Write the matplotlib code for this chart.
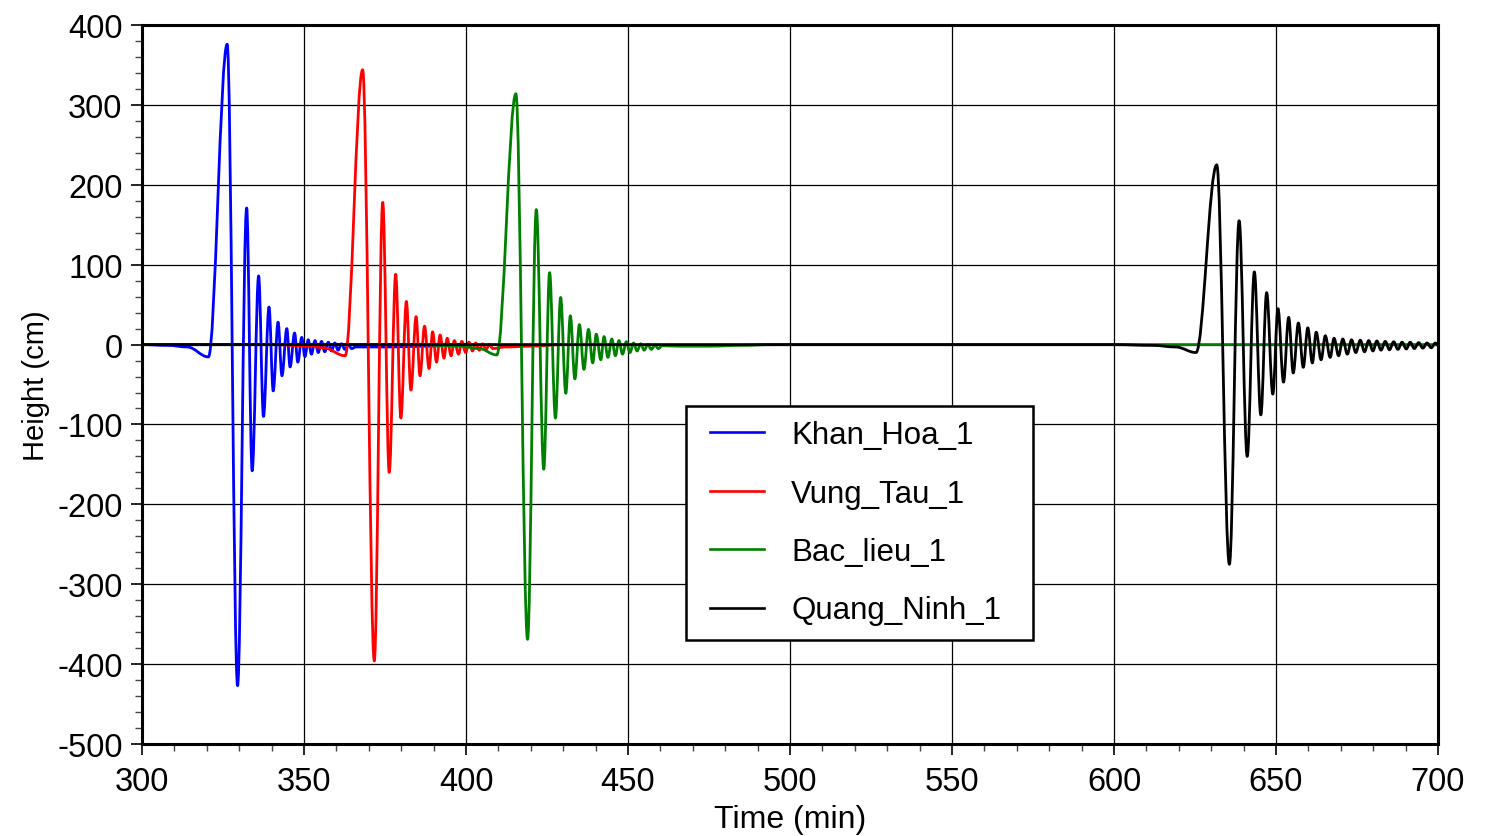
import matplotlib
matplotlib.use("Agg")
import matplotlib.pyplot as plt
from matplotlib.path import Path
from matplotlib.patches import PathPatch
from matplotlib.lines import Line2D
from matplotlib.legend_handler import HandlerBase
from matplotlib.ticker import MultipleLocator

plt.rcParams['font.family'] = ['Liberation Sans', 'DejaVu Sans']
plt.rcParams['axes.unicode_minus'] = False

# ---- data: extrema of each waveform (time in min, height in cm)
khan_hoa_t = [300, 308, 314, 320.5, 326.3, 329.5, 332.3, 334.0, 336.0, 337.5, 339.2, 340.5,
              342.0, 343.2, 344.7, 345.7, 347.1, 348.1, 349.3, 350.3, 351.3, 352.3, 353.4,
              354.4, 355.4, 356.4, 357.5, 358.5, 359.5, 360.5, 361.6, 362.6, 363.7, 364.7,
              366, 375, 388, 400]
khan_hoa_v = [0, -1, -3, -15.5, 376, -427, 171, -158, 86, -90, 47, -58,
              28, -39, 20, -28, 14.5, -22, 9, -15, 6, -12, 5,
              -10, 4, -9, 3, -8, 2, -7, 1, -6, 0, -5,
              -3, -3, -2, 0]

vung_tau_t = [300, 340, 352, 356, 362.7, 368.1, 371.7, 374.3, 376.3, 378.3, 379.9, 381.6,
              383.0, 384.6, 385.8, 387.2, 388.6, 389.7, 390.9, 392.0, 393.2, 394.2, 395.4,
              396.4, 397.7, 398.7, 399.9, 400.9, 402.0, 403.0, 404.1, 405.1, 406.2, 407.2,
              408.3, 412, 420, 430]
vung_tau_v = [0, 0, -2, -4, -14, 344, -396, 178, -160, 88, -92, 54,
              -57, 35, -39, 23, -30, 16, -22, 12, -17, 8, -14,
              5, -12, 4, -10, 3, -8, 2, -7, 1, -6, 0,
              -5, -3, -2, 0]

bac_lieu_t = [300, 385, 398, 404, 409.5, 415.4, 419.0, 421.7, 424.0, 425.8, 427.6, 429.2,
              430.8, 432.2, 433.6, 435.0, 436.4, 437.8, 439.1, 440.2, 441.6, 442.6, 443.8,
              445.0, 446.1, 447.2, 448.3, 449.5, 450.6, 451.7, 452.8, 453.9, 455.0, 456.1,
              457.2, 458.3, 459.4, 460.5, 466, 475, 485, 495, 700]
bac_lieu_v = [0, 0, -2, -5, -13, 314, -369, 169, -156, 90, -92, 59,
              -61, 36, -43, 25, -31, 19, -23, 13, -19, 10, -16,
              7, -14, 5, -12, 3.6, -10, 2, -8, 1, -7, 0,
              -6, -1, -5, -1.5, -2, -2, -1, 0, 0]

quang_ninh_t = [300, 600, 612, 619, 625.3, 631.7, 635.6, 638.6, 641.1, 643.3, 645.3, 647.1,
                649.0, 650.6, 652.3, 653.9, 655.3, 656.9, 658.4, 659.8, 661.2, 662.4, 663.9,
                665.2, 666.7, 667.9, 669.3, 670.6, 672.0, 673.3, 674.6, 676.0, 677.3, 678.6,
                679.9, 681.1, 682.4, 683.7, 685.0, 686.3, 687.6, 688.9, 690.2, 691.4, 692.7,
                694.0, 695.3, 696.6, 697.9, 699.2, 700]
quang_ninh_v = [0, 0, -1, -3, -10, 225, -275, 155, -140, 91, -88, 65,
                -62, 45, -47, 34, -35.5, 27, -28.5, 21, -23, 15.5, -19,
                11, -16, 8, -14, 7, -12, 6, -10, 5.5, -9, 5,
                -8, 4.5, -7, 4, -6.5, 3.5, -6, 3, -5.5, 3, -5,
                2.5, -4.5, 2, -4, 2, -1]

series = [
    ("Khan_Hoa_1", khan_hoa_t, khan_hoa_v, "#0000ff"),
    ("Vung_Tau_1", vung_tau_t, vung_tau_v, "#ff0000"),
    ("Bac_lieu_1", bac_lieu_t, bac_lieu_v, "#008000"),
    ("Quang_Ninh_1", quang_ninh_t, quang_ninh_v, "#000000"),
]


def wave_path(t, v, k=0.364):
    """Smooth curve through extrema: cubic Bezier segments with flat tangents."""
    verts = [(t[0], v[0])]
    codes = [Path.MOVETO]
    for i in range(1, len(t)):
        dt = t[i] - t[i - 1]
        verts += [(t[i - 1] + k * dt, v[i - 1]), (t[i] - k * dt, v[i]), (t[i], v[i])]
        codes += [Path.CURVE4] * 3
    return Path(verts, codes)


class IndentedLineHandler(HandlerBase):
    """Legend line sample drawn with a small indent from the frame."""
    def create_artists(self, legend, orig_handle, xdescent, ydescent, width, height,
                       fontsize, trans):
        y = height / 2 - ydescent
        x0 = -xdescent + 0.3 * fontsize
        x1 = -xdescent + width
        ln = Line2D([x0, x1], [y, y], color=orig_handle.get_color(),
                    lw=orig_handle.get_linewidth(), transform=trans)
        return [ln]


fig = plt.figure(figsize=(14.93, 8.37), dpi=100)
ax = fig.add_axes([0.0951, 0.1099, 0.8681, 0.8590])

LW = 2.0
handles = []
for name, t, v, c in series:
    ax.add_patch(PathPatch(wave_path(t, v), facecolor='none', edgecolor=c, lw=LW,
                           zorder=3, capstyle='round', joinstyle='round'))
    handles.append(Line2D([], [], color=c, lw=1.9, label=name))

ax.set_xlim(300, 700)
ax.set_ylim(-500, 400)
ax.xaxis.set_major_locator(MultipleLocator(50))
ax.xaxis.set_minor_locator(MultipleLocator(10))
ax.yaxis.set_major_locator(MultipleLocator(100))
ax.yaxis.set_minor_locator(MultipleLocator(20))
ax.grid(True, which='major', color='black', lw=0.9, zorder=1)
ax.set_axisbelow(True)

ax.tick_params(which='major', direction='out', length=8, width=1.2, labelsize=23.5,
               colors='black')
ax.tick_params(axis='x', which='major', pad=8)
ax.tick_params(axis='y', which='major', pad=6)
ax.tick_params(which='minor', direction='out', length=5, width=1.0, color='#444444')
for s in ax.spines.values():
    s.set_linewidth(2.2)
    s.set_color('black')
    s.set_zorder(5)

ax.set_xlabel("Time (min)", fontsize=23, labelpad=5)
ax.set_ylabel("Height (cm)", fontsize=21, labelpad=5)

leg = ax.legend(handles=handles, handler_map={Line2D: IndentedLineHandler()},
                loc='upper left', bbox_to_anchor=(0.4198, 0.1446, 0.2677, 0.3254),
                mode='expand', borderaxespad=0, fontsize=22.5, frameon=True,
                fancybox=False, handlelength=2.05, handletextpad=0.86,
                labelspacing=0.91, borderpad=0.45, framealpha=1)
leg.get_frame().set_edgecolor('black')
leg.get_frame().set_linewidth(1.8)
leg.set_zorder(10)

fig.savefig("out.png", dpi=100)
